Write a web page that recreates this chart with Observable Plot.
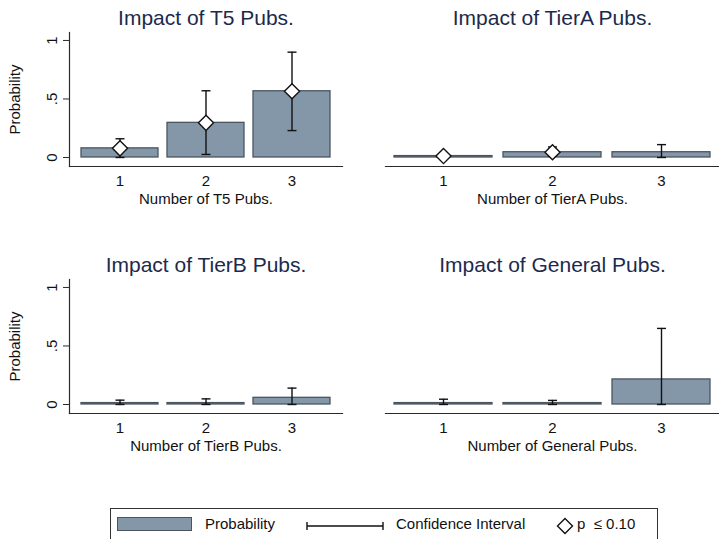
<!DOCTYPE html>
<html>
<head>
<meta charset="utf-8">
<script src="https://cdn.jsdelivr.net/npm/d3@7"></script>
<script src="https://cdn.jsdelivr.net/npm/@observablehq/plot@0.6"></script>
<style>
  body { margin: 0; background: #fff; }
  #chart { position: relative; width: 719px; height: 539px; overflow: hidden; font-family: "Liberation Sans", Arial, sans-serif; }
  #chart svg { position: absolute; background: transparent; }
  #legend { position: absolute; left: 110px; top: 508px; width: 548px; height: 40px; border: 1px solid #333; box-sizing: border-box; font-size: 15px; color: #111; }
  #legend .sw { position: absolute; left: 6px; top: 8px; width: 75px; height: 14px; background: #8497a8; border: 1px solid #4b5560; box-sizing: border-box; }
  #legend .t { position: absolute; top: 6px; line-height: 18px; white-space: pre; }
</style>
</head>
<body>
<div id="chart"></div>
<script>
// ---- data ----
const categories = [1, 2, 3];
const yTicks = [0, 0.5, 1];
const yTickLabels = ["0", ".5", "1"];
const panelNames = ["T5", "TierA", "TierB", "General"];

const probT5 = [0.078, 0.296, 0.566];
const loT5   = [0.0, 0.026, 0.23];
const hiT5   = [0.16, 0.57, 0.90];
const sigT5  = [true, true, true];

const probTierA = [0.012, 0.045, 0.045];
const loTierA   = [0.0, 0.01, 0.0];
const hiTierA   = [0.04, 0.09, 0.11];
const sigTierA  = [true, true, false];

const probTierB = [0.012, 0.012, 0.057];
const loTierB   = [0.0, 0.0, 0.0];
const hiTierB   = [0.037, 0.048, 0.14];
const sigTierB  = [false, false, false];

const probGeneral = [0.012, 0.012, 0.214];
const loGeneral   = [0.0, 0.0, 0.0];
const hiGeneral   = [0.045, 0.035, 0.65];
const sigGeneral  = [false, false, false];

// ---- styles ----
const barFill = "#8497a8";
const barStroke = "#4b5560";
const axisColor = "#2a2a2a";
const titleColor = "#1c2a4c";
const textColor = "#111";

const capSymbol = {
  draw(ctx, size) {
    const r = Math.sqrt(size / Math.PI);
    ctx.moveTo(-r, 0); ctx.lineTo(r, 0);
  }
};

function panel(name, prob, lo, hi, sig, withY) {
  const data = categories.map((c, i) => ({c, p: prob[i], lo: lo[i], hi: hi[i], sig: sig[i]}));
  const marks = [
    Plot.barY(data, {x: "c", y1: 0, y2: "p", fill: barFill, stroke: barStroke, strokeWidth: 1.3}),
    Plot.ruleX(data, {x: "c", y1: "lo", y2: "hi", stroke: "#111", strokeWidth: 1.4}),
    Plot.dot(data, {x: "c", y: "lo", symbol: capSymbol, r: 4.5, stroke: "#111", strokeWidth: 1.4}),
    Plot.dot(data, {x: "c", y: "hi", symbol: capSymbol, r: 4.5, stroke: "#111", strokeWidth: 1.4}),
    Plot.dot(data.filter(d => d.sig), {x: "c", y: "p", symbol: "diamond2", r: 6.8, fill: "white", stroke: "#111", strokeWidth: 1.4}),
    Plot.frame({anchor: "bottom", stroke: axisColor, strokeWidth: 1.2}),
    Plot.axisX({tickSize: 0, tickPadding: 9, fontSize: 15, label: null, fill: textColor}),
    Plot.text([`Number of ${name} Pubs.`], {text: d => d, frameAnchor: "bottom", dy: 27, lineAnchor: "top", fontSize: 15, fill: textColor}),
    Plot.text([`Impact of ${name} Pubs.`], {text: d => d, frameAnchor: "top", dy: -8, lineAnchor: "bottom", fontSize: 21, fill: titleColor})
  ];
  if (withY) {
    marks.push(
      Plot.frame({anchor: "left", stroke: axisColor, strokeWidth: 1.2}),
      Plot.axisY({ticks: yTicks, tickSize: 6, tickFormat: () => "", label: null, stroke: axisColor}),
      Plot.text(yTicks, {y: d => d, text: (d, i) => yTickLabels[i], frameAnchor: "left", textAnchor: "middle", dx: -17, rotate: -90, fontSize: 15, fill: textColor}),
      Plot.text(["Probability"], {text: d => d, frameAnchor: "left", textAnchor: "middle", dx: -54, rotate: -90, fontSize: 15, fill: textColor})
    );
  }
  return Plot.plot({
    width: withY ? 360 : 359,
    height: 215,
    marginLeft: withY ? 69 : 25,
    marginRight: withY ? 18 : 0,
    marginTop: 32,
    marginBottom: 49,
    style: {fontFamily: '"Liberation Sans", Arial, sans-serif', background: "transparent"},
    x: {type: "band", domain: categories, paddingInner: 0.1, paddingOuter: withY ? 0.125 : 0.082, axis: null},
    y: {domain: [-0.077, 1.068], axis: null},
    marks
  });
}

const chart = document.getElementById("chart");
const specs = [
  [panelNames[0], probT5, loT5, hiT5, sigT5, true, 0, 0],
  [panelNames[1], probTierA, loTierA, hiTierA, sigTierA, false, 360, 0],
  [panelNames[2], probTierB, loTierB, hiTierB, sigTierB, true, 0, 247],
  [panelNames[3], probGeneral, loGeneral, hiGeneral, sigGeneral, false, 360, 247]
];
for (const [name, p, lo, hi, sig, withY, left, top] of specs) {
  const svg = panel(name, p, lo, hi, sig, withY);
  svg.style.left = left + "px";
  svg.style.top = top + "px";
  chart.appendChild(svg);
}

// ---- legend ----
const legend = document.createElement("div");
legend.id = "legend";
legend.innerHTML = `
  <div class="sw"></div>
  <div class="t" style="left:94px">Probability</div>
  <svg width="80" height="12" style="position:absolute;left:195px;top:11px">
    <line x1="1" x2="77" y1="6" y2="6" stroke="#111" stroke-width="1.4"/>
    <line x1="1" x2="1" y1="2" y2="10" stroke="#111" stroke-width="1.4"/>
    <line x1="77" x2="77" y1="2" y2="10" stroke="#111" stroke-width="1.4"/>
  </svg>
  <div class="t" style="left:285px">Confidence Interval</div>
  <svg width="18" height="18" style="position:absolute;left:445px;top:8px">
    <path d="M9,1.5L16.5,9L9,16.5L1.5,9Z" fill="white" stroke="#111" stroke-width="1.4"/>
  </svg>
  <div class="t" style="left:466px">p  ≤ 0.10</div>
`;
chart.appendChild(legend);
</script>
</body>
</html>
